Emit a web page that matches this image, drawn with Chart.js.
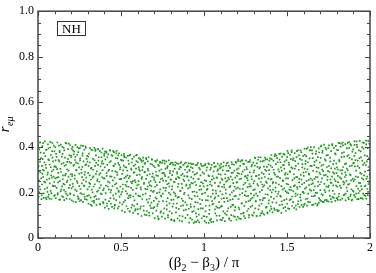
<!DOCTYPE html>
<html>
<head>
<meta charset="utf-8">
<script src="https://cdn.jsdelivr.net/npm/chart.js@4"></script>
<style>
  html, body { margin: 0; padding: 0; background: #fff; }
  canvas { display: block; }
</style>
</head>
<body>
<canvas id="chart" width="376" height="273"></canvas>
<script>
// tick labels
const xMajorLabels = ["0", "0.5", "1", "1.5", "2"];
const yMajorLabels = ["0", "0.2", "0.4", "0.6", "0.8", "1.0"];

// scatter points, [beta2-beta3 over pi, r_emu], in four stretches
const band0to05 = [
  [0.004,.182],[0.006,.254],[0.003,.317],[0.008,.391],[0.011,.421],[0.013,.214],[0.015,.289],[0.018,.352],[0.021,.171],[0.024,.236],[0.026,.405],[0.028,.301],[0.031,.268],[0.034,.197],[0.036,.374],[0.039,.333],[0.042,.426],[0.044,.245],[0.047,.178],[0.049,.309],[0.052,.388],[0.055,.222],[0.057,.279],[0.06,.413],[0.062,.347],[0.065,.191],[0.068,.262],[0.07,.324],[0.073,.399],[0.076,.208],[0.078,.366],[0.081,.172],[0.084,.294],[0.086,.419],[0.089,.231],[0.091,.338],[0.094,.271],[0.097,.186],[0.099,.382],[0.098,.315],
  [0.102,.229],[0.104,.401],[0.107,.176],[0.109,.312],[0.112,.358],[0.114,.266],[0.117,.421],[0.119,.198],[0.122,.287],[0.124,.343],[0.127,.169],[0.13,.384],[0.132,.251],[0.135,.305],[0.137,.412],[0.14,.213],[0.142,.327],[0.145,.184],[0.148,.371],[0.15,.276],[0.153,.239],[0.155,.398],[0.158,.167],[0.16,.318],[0.163,.354],[0.166,.204],[0.168,.283],[0.171,.417],[0.173,.246],[0.176,.336],[0.178,.188],[0.181,.392],[0.184,.297],[0.186,.221],[0.189,.364],[0.191,.172],[0.194,.409],[0.196,.258],[0.199,.331],[0.195,.193],
  [0.201,.356],[0.203,.166],[0.206,.273],[0.208,.402],[0.211,.227],[0.213,.319],[0.216,.189],[0.218,.381],[0.221,.262],[0.223,.344],[0.226,.411],[0.228,.158],[0.231,.298],[0.233,.207],[0.236,.367],[0.238,.243],[0.241,.329],[0.244,.176],[0.246,.395],[0.249,.284],[0.251,.162],[0.254,.351],[0.256,.216],[0.259,.407],[0.261,.302],[0.264,.194],[0.266,.268],[0.269,.373],[0.271,.159],[0.274,.338],[0.276,.231],[0.279,.389],[0.281,.181],[0.284,.291],[0.286,.404],[0.289,.249],[0.291,.325],[0.294,.169],[0.296,.362],[0.299,.214],
  [0.302,.287],[0.304,.151],[0.307,.372],[0.309,.226],[0.312,.333],[0.314,.396],[0.317,.178],[0.319,.258],[0.322,.309],[0.324,.143],[0.327,.387],[0.329,.201],[0.332,.349],[0.334,.272],[0.337,.164],[0.339,.398],[0.342,.237],[0.344,.318],[0.347,.186],[0.349,.364],[0.352,.146],[0.354,.294],[0.357,.252],[0.359,.391],[0.362,.209],[0.364,.341],[0.367,.172],[0.369,.279],[0.372,.383],[0.374,.148],[0.377,.316],[0.379,.232],[0.382,.356],[0.384,.193],[0.387,.267],[0.389,.394],[0.392,.158],[0.394,.328],[0.397,.219],[0.399,.371],
  [0.401,.263],[0.403,.134],[0.406,.347],[0.408,.198],[0.411,.381],[0.413,.286],[0.416,.152],[0.418,.322],[0.421,.227],[0.423,.369],[0.426,.128],[0.428,.301],[0.431,.244],[0.433,.386],[0.436,.176],[0.438,.339],[0.441,.211],[0.443,.271],[0.446,.137],[0.448,.362],[0.451,.254],[0.453,.188],[0.456,.317],[0.458,.379],[0.461,.143],[0.463,.236],[0.466,.294],[0.468,.352],[0.471,.167],[0.473,.384],[0.476,.219],[0.478,.278],[0.481,.131],[0.483,.331],[0.486,.203],[0.488,.373],[0.491,.259],[0.493,.156],[0.496,.311],[0.499,.345],
  [0.057,.203],[0.012,.337],[0.083,.266],[0.031,.418],[0.069,.174],[0.005,.294],[0.044,.361],[0.091,.229],[0.022,.188],[0.076,.312],[0.038,.249],[0.063,.395],[0.009,.227],[0.087,.354],[0.051,.171],[0.027,.283],[0.095,.407],[0.016,.376],[0.071,.241],[0.046,.322],[0.002,.409],[0.059,.288],[0.034,.177],[0.081,.198],[0.019,.263],[0.066,.343],[0.041,.216],[0.093,.301],[0.028,.348],[0.074,.424],[0.053,.257],[0.008,.201],[0.085,.383],[0.036,.297],[0.061,.181],[0.014,.421],[0.079,.276],[0.048,.389],[0.024,.318],[0.097,.247],
  [0.163,.276],[0.118,.191],[0.181,.349],[0.104,.263],[0.147,.402],[0.192,.233],[0.128,.338],[0.172,.174],[0.109,.371],[0.157,.211],[0.138,.291],[0.186,.416],[0.121,.245],[0.168,.323],[0.101,.189],[0.143,.359],[0.197,.281],[0.133,.169],[0.177,.253],[0.115,.304],[0.152,.181],[0.189,.336],[0.126,.407],[0.161,.236],[0.106,.342],[0.149,.259],[0.194,.197],[0.131,.378],[0.175,.302],[0.112,.221],[0.158,.386],[0.184,.271],[0.136,.206],[0.166,.419],[0.103,.316],[0.145,.228],[0.199,.363],[0.123,.268],[0.171,.195],[0.154,.331],
  [0.247,.311],[0.209,.239],[0.283,.171],[0.226,.358],[0.262,.287],[0.204,.394],[0.239,.184],[0.291,.266],[0.218,.323],[0.271,.406],[0.234,.251],[0.256,.198],[0.298,.337],[0.213,.161],[0.279,.229],[0.242,.379],[0.267,.314],[0.206,.281],[0.288,.397],[0.224,.213],[0.253,.342],[0.296,.186],[0.231,.299],[0.274,.256],[0.215,.369],[0.259,.167],[0.285,.321],[0.237,.401],[0.202,.219],[0.268,.363],[0.249,.229],[0.293,.349],[0.221,.276],[0.277,.193],[0.244,.171],[0.211,.386],[0.264,.241],[0.229,.332],[0.281,.279],[0.252,.396],
  [0.356,.204],[0.311,.276],[0.387,.339],[0.327,.162],[0.369,.248],[0.303,.359],[0.344,.391],[0.392,.211],[0.319,.306],[0.374,.149],[0.335,.227],[0.361,.322],[0.307,.188],[0.382,.377],[0.349,.283],[0.322,.389],[0.396,.263],[0.338,.156],[0.366,.356],[0.314,.239],[0.378,.196],[0.341,.342],[0.353,.171],[0.329,.266],[0.389,.299],[0.305,.318],[0.371,.221],[0.346,.384],[0.317,.147],[0.384,.329],[0.332,.301],[0.359,.259],[0.394,.153],[0.324,.213],[0.363,.392],[0.339,.181],[0.309,.243],[0.376,.286],[0.351,.331],[0.399,.363],
  [0.447,.296],[0.406,.169],[0.472,.241],[0.418,.356],[0.491,.182],[0.434,.272],[0.459,.131],[0.402,.311],[0.483,.364],[0.427,.214],[0.465,.327],[0.412,.376],[0.496,.227],[0.439,.151],[0.476,.289],[0.421,.249],[0.453,.383],[0.487,.139],[0.431,.334],[0.468,.196],[0.409,.231],[0.494,.303],[0.443,.366],[0.461,.266],[0.416,.141],[0.479,.351],[0.437,.201],[0.498,.261],[0.424,.296],[0.457,.174],[0.404,.381],[0.489,.322],[0.449,.229],[0.428,.163],[0.471,.373],[0.414,.274],[0.455,.319],[0.485,.209],[0.433,.386],[0.463,.146]
];
const band05to1 = [
  [0.501,.192],[0.503,.366],[0.506,.121],[0.508,.283],[0.511,.236],[0.513,.341],[0.516,.158],[0.518,.371],[0.521,.264],[0.523,.114],[0.526,.312],[0.528,.207],[0.531,.355],[0.533,.141],[0.536,.249],[0.538,.297],[0.541,.362],[0.543,.176],[0.546,.226],[0.548,.327],[0.551,.118],[0.553,.273],[0.556,.368],[0.558,.189],[0.561,.306],[0.563,.134],[0.566,.242],[0.568,.349],[0.571,.212],[0.573,.111],[0.576,.288],[0.578,.359],[0.581,.166],[0.583,.255],[0.586,.324],[0.588,.127],[0.591,.364],[0.593,.219],[0.596,.277],[0.598,.149],
  [0.601,.334],[0.603,.106],[0.606,.251],[0.608,.352],[0.611,.184],[0.613,.296],[0.616,.129],[0.618,.223],[0.621,.343],[0.623,.097],[0.626,.268],[0.628,.172],[0.631,.314],[0.633,.354],[0.636,.141],[0.638,.238],[0.641,.289],[0.643,.103],[0.646,.331],[0.648,.196],[0.651,.261],[0.653,.348],[0.656,.119],[0.658,.214],[0.661,.305],[0.663,.157],[0.666,.356],[0.668,.244],[0.671,.099],[0.673,.281],[0.676,.186],[0.678,.327],[0.681,.132],[0.683,.229],[0.686,.345],[0.688,.271],[0.691,.109],[0.693,.203],[0.696,.318],[0.698,.164],
  [0.701,.256],[0.703,.088],[0.706,.339],[0.708,.178],[0.711,.292],[0.713,.121],[0.716,.233],[0.718,.343],[0.721,.149],[0.723,.274],[0.726,.083],[0.728,.318],[0.731,.201],[0.733,.246],[0.736,.336],[0.738,.112],[0.741,.187],[0.743,.302],[0.746,.094],[0.748,.263],[0.751,.341],[0.753,.163],[0.756,.221],[0.758,.287],[0.761,.131],[0.763,.329],[0.766,.085],[0.768,.209],[0.771,.252],[0.773,.338],[0.776,.144],[0.778,.309],[0.781,.176],[0.783,.101],[0.786,.268],[0.788,.342],[0.791,.227],[0.793,.118],[0.796,.296],[0.798,.191],
  [0.801,.331],[0.803,.079],[0.806,.214],[0.808,.277],[0.811,.138],[0.813,.323],[0.816,.169],[0.818,.248],[0.821,.074],[0.823,.305],[0.826,.196],[0.828,.334],[0.831,.113],[0.833,.259],[0.836,.152],[0.838,.291],[0.841,.086],[0.843,.226],[0.846,.327],[0.848,.181],[0.851,.265],[0.853,.098],[0.856,.314],[0.858,.207],[0.861,.141],[0.863,.335],[0.866,.239],[0.868,.073],[0.871,.283],[0.873,.164],[0.876,.322],[0.878,.122],[0.881,.252],[0.883,.199],[0.886,.301],[0.888,.089],[0.891,.333],[0.893,.231],[0.896,.146],[0.898,.272],
  [0.901,.102],[0.903,.317],[0.906,.188],[0.908,.254],[0.911,.068],[0.913,.296],[0.916,.223],[0.918,.329],[0.921,.137],[0.923,.268],[0.926,.171],[0.928,.081],[0.931,.308],[0.933,.241],[0.936,.326],[0.938,.119],[0.941,.205],[0.943,.279],[0.946,.072],[0.948,.158],[0.951,.321],[0.953,.233],[0.956,.094],[0.958,.286],[0.961,.184],[0.963,.331],[0.966,.127],[0.968,.261],[0.971,.069],[0.973,.212],[0.976,.303],[0.978,.149],[0.981,.327],[0.983,.246],[0.986,.087],[0.988,.194],[0.991,.289],[0.993,.131],[0.996,.318],[0.998,.228],
  [0.547,.264],[0.508,.148],[0.577,.318],[0.521,.356],[0.589,.196],[0.534,.228],[0.563,.301],[0.504,.342],[0.584,.121],[0.529,.271],[0.556,.179],[0.511,.216],[0.593,.339],[0.541,.129],[0.572,.251],[0.517,.319],[0.551,.364],[0.598,.232],[0.537,.196],[0.568,.146],[0.502,.261],[0.581,.289],[0.544,.341],[0.525,.166],[0.561,.221],[0.596,.367],[0.513,.298],[0.574,.183],[0.532,.311],[0.553,.116],[0.587,.246],[0.519,.362],[0.565,.333],[0.506,.203],[0.579,.141],[0.539,.276],[0.559,.248],[0.591,.306],[0.527,.234],[0.548,.187],
  [0.647,.217],[0.609,.303],[0.683,.156],[0.624,.261],[0.662,.338],[0.603,.187],[0.691,.284],[0.637,.121],[0.674,.233],[0.615,.349],[0.655,.169],[0.697,.207],[0.628,.299],[0.669,.112],[0.606,.236],[0.642,.327],[0.686,.348],[0.619,.138],[0.658,.276],[0.632,.191],[0.694,.132],[0.612,.279],[0.651,.352],[0.678,.251],[0.621,.214],[0.665,.297],[0.601,.126],[0.688,.324],[0.639,.243],[0.671,.173],[0.626,.337],[0.654,.101],[0.699,.266],[0.617,.183],[0.645,.292],[0.681,.209],[0.634,.341],[0.661,.228],[0.607,.311],[0.676,.143],
  [0.743,.183],[0.708,.246],[0.781,.317],[0.721,.096],[0.766,.273],[0.704,.312],[0.792,.153],[0.734,.332],[0.756,.109],[0.717,.198],[0.787,.241],[0.749,.286],[0.728,.161],[0.771,.221],[0.701,.136],[0.796,.326],[0.739,.259],[0.761,.341],[0.713,.276],[0.783,.091],[0.752,.196],[0.724,.322],[0.774,.161],[0.706,.226],[0.741,.118],[0.798,.258],[0.731,.297],[0.768,.306],[0.719,.141],[0.789,.199],[0.754,.253],[0.711,.337],[0.776,.126],[0.736,.214],[0.763,.279],[0.726,.087],[0.794,.286],[0.747,.331],[0.715,.173],[0.779,.237],
  [0.844,.268],[0.806,.109],[0.879,.193],[0.823,.246],[0.861,.311],[0.803,.168],[0.891,.125],[0.836,.329],[0.869,.221],[0.814,.294],[0.853,.077],[0.897,.314],[0.829,.186],[0.876,.258],[0.809,.228],[0.848,.128],[0.884,.329],[0.821,.079],[0.866,.173],[0.838,.284],[0.801,.257],[0.894,.236],[0.857,.209],[0.826,.321],[0.871,.096],[0.811,.331],[0.846,.239],[0.887,.157],[0.833,.133],[0.863,.276],[0.818,.201],[0.899,.289],[0.851,.304],[0.874,.144],[0.831,.262],[0.804,.082],[0.882,.273],[0.841,.178],[0.859,.331],[0.816,.151],
  [0.946,.247],[0.908,.129],[0.979,.276],[0.921,.312],[0.963,.078],[0.904,.219],[0.989,.167],[0.934,.291],[0.956,.201],[0.917,.088],[0.993,.241],[0.941,.138],[0.927,.326],[0.971,.309],[0.901,.271],[0.951,.109],[0.984,.214],[0.913,.176],[0.966,.259],[0.938,.067],[0.997,.096],[0.924,.243],[0.958,.323],[0.981,.131],[0.911,.301],[0.944,.186],[0.976,.229],[0.931,.203],[0.961,.156],[0.906,.329],[0.986,.318],[0.949,.281],[0.919,.148],[0.969,.103],[0.936,.262],[0.991,.196],[0.954,.071],[0.929,.115],[0.974,.172],[0.915,.234]
];
const band1to15 = [
  [1.001,.284],[1.003,.074],[1.006,.199],[1.008,.326],[1.011,.141],[1.013,.252],[1.016,.093],[1.018,.311],[1.021,.217],[1.023,.166],[1.026,.329],[1.028,.067],[1.031,.273],[1.033,.124],[1.036,.236],[1.038,.301],[1.041,.182],[1.043,.083],[1.046,.322],[1.048,.257],[1.051,.148],[1.053,.211],[1.056,.071],[1.058,.294],[1.061,.331],[1.063,.173],[1.066,.243],[1.068,.109],[1.071,.316],[1.073,.197],[1.076,.266],[1.078,.078],[1.081,.134],[1.083,.328],[1.086,.229],[1.088,.282],[1.091,.158],[1.093,.098],[1.096,.307],[1.098,.206],
  [1.101,.138],[1.103,.327],[1.106,.262],[1.108,.079],[1.111,.192],[1.113,.298],[1.116,.117],[1.118,.334],[1.121,.235],[1.123,.159],[1.126,.074],[1.128,.281],[1.131,.213],[1.133,.319],[1.136,.102],[1.138,.176],[1.141,.253],[1.143,.332],[1.146,.131],[1.148,.296],[1.151,.087],[1.153,.224],[1.156,.309],[1.158,.168],[1.161,.271],[1.163,.076],[1.166,.335],[1.168,.201],[1.171,.146],[1.173,.288],[1.176,.242],[1.178,.097],[1.181,.323],[1.183,.184],[1.186,.122],[1.188,.266],[1.191,.336],[1.193,.218],[1.196,.081],[1.198,.303],
  [1.201,.247],[1.203,.093],[1.206,.339],[1.208,.171],[1.211,.284],[1.213,.126],[1.216,.216],[1.218,.318],[1.221,.084],[1.223,.262],[1.226,.153],[1.228,.343],[1.231,.198],[1.233,.293],[1.236,.109],[1.238,.235],[1.241,.327],[1.243,.142],[1.246,.271],[1.248,.088],[1.251,.206],[1.253,.341],[1.256,.184],[1.258,.304],[1.261,.119],[1.263,.254],[1.266,.336],[1.268,.163],[1.271,.091],[1.273,.227],[1.276,.289],[1.278,.344],[1.281,.137],[1.283,.196],[1.286,.316],[1.288,.259],[1.291,.101],[1.293,.178],[1.296,.332],[1.298,.241],
  [1.301,.112],[1.303,.298],[1.306,.214],[1.308,.352],[1.311,.161],[1.313,.273],[1.316,.097],[1.318,.329],[1.321,.238],[1.323,.186],[1.326,.345],[1.328,.126],[1.331,.262],[1.333,.307],[1.336,.203],[1.338,.099],[1.341,.356],[1.343,.247],[1.346,.151],[1.348,.288],[1.351,.117],[1.353,.338],[1.356,.226],[1.358,.176],[1.361,.315],[1.363,.103],[1.366,.269],[1.368,.354],[1.371,.193],[1.373,.134],[1.376,.296],[1.378,.243],[1.381,.347],[1.383,.109],[1.386,.219],[1.388,.324],[1.391,.166],[1.393,.281],[1.396,.121],[1.398,.351],
  [1.401,.258],[1.403,.139],[1.406,.366],[1.408,.201],[1.411,.312],[1.413,.113],[1.416,.246],[1.418,.341],[1.421,.174],[1.423,.287],[1.426,.124],[1.428,.369],[1.431,.222],[1.433,.326],[1.436,.156],[1.438,.271],[1.441,.352],[1.443,.118],[1.446,.194],[1.448,.303],[1.451,.236],[1.453,.371],[1.456,.145],[1.458,.264],[1.461,.334],[1.463,.182],[1.466,.111],[1.468,.297],[1.471,.359],[1.473,.213],[1.476,.251],[1.478,.132],[1.481,.321],[1.483,.167],[1.486,.368],[1.488,.279],[1.491,.207],[1.493,.119],[1.496,.343],[1.498,.239],
  [1.047,.231],[1.009,.117],[1.081,.296],[1.024,.184],[1.063,.314],[1.004,.254],[1.092,.133],[1.036,.079],[1.071,.209],[1.015,.298],[1.056,.151],[1.097,.244],[1.029,.326],[1.076,.098],[1.011,.167],[1.051,.273],[1.086,.186],[1.021,.231],[1.066,.126],[1.041,.309],[1.002,.096],[1.094,.319],[1.059,.263],[1.033,.143],[1.079,.266],[1.017,.212],[1.044,.071],[1.089,.228],[1.027,.276],[1.068,.179],[1.006,.321],[1.053,.196],[1.099,.081],[1.038,.248],[1.074,.139],[1.013,.068],[1.061,.331],[1.084,.303],[1.031,.106],[1.049,.163],
  [1.146,.266],[1.107,.142],[1.183,.297],[1.122,.223],[1.164,.101],[1.103,.311],[1.191,.186],[1.137,.329],[1.171,.257],[1.114,.089],[1.156,.191],[1.196,.244],[1.128,.263],[1.176,.146],[1.109,.226],[1.149,.318],[1.186,.093],[1.119,.176],[1.166,.287],[1.141,.118],[1.101,.279],[1.193,.331],[1.159,.229],[1.131,.197],[1.179,.209],[1.116,.316],[1.143,.163],[1.188,.136],[1.126,.109],[1.169,.326],[1.106,.173],[1.153,.082],[1.199,.274],[1.134,.249],[1.173,.171],[1.111,.256],[1.161,.137],[1.184,.226],[1.139,.296],[1.151,.259],
  [1.246,.189],[1.208,.307],[1.282,.228],[1.223,.107],[1.264,.276],[1.204,.222],[1.291,.143],[1.236,.327],[1.271,.101],[1.214,.259],[1.256,.313],[1.297,.211],[1.229,.152],[1.276,.336],[1.209,.134],[1.249,.243],[1.286,.272],[1.219,.338],[1.266,.186],[1.241,.097],[1.202,.286],[1.294,.099],[1.259,.264],[1.233,.217],[1.279,.166],[1.216,.191],[1.244,.301],[1.289,.322],[1.226,.281],[1.268,.129],[1.206,.346],[1.253,.158],[1.299,.289],[1.238,.111],[1.274,.238],[1.212,.086],[1.262,.224],[1.284,.173],[1.231,.341],[1.251,.273],
  [1.347,.264],[1.309,.131],[1.384,.191],[1.322,.314],[1.363,.232],[1.303,.251],[1.392,.299],[1.337,.168],[1.372,.347],[1.314,.196],[1.355,.108],[1.397,.229],[1.328,.356],[1.377,.137],[1.306,.319],[1.349,.211],[1.387,.262],[1.319,.097],[1.366,.177],[1.341,.338],[1.301,.188],[1.394,.341],[1.359,.283],[1.333,.143],[1.379,.314],[1.316,.274],[1.344,.109],[1.389,.153],[1.326,.231],[1.368,.301],[1.307,.354],[1.353,.167],[1.399,.211],[1.338,.311],[1.374,.249],[1.312,.163],[1.361,.341],[1.382,.113],[1.331,.278],[1.351,.236],
  [1.446,.271],[1.408,.348],[1.483,.219],[1.423,.131],[1.464,.311],[1.404,.181],[1.491,.286],[1.436,.363],[1.471,.147],[1.414,.241],[1.455,.346],[1.497,.171],[1.428,.279],[1.476,.321],[1.406,.128],[1.449,.204],[1.486,.337],[1.419,.301],[1.466,.229],[1.441,.124],[1.401,.319],[1.494,.263],[1.459,.186],[1.433,.243],[1.479,.371],[1.416,.213],[1.444,.334],[1.489,.136],[1.426,.361],[1.468,.162],[1.407,.261],[1.453,.293],[1.499,.201],[1.438,.183],[1.474,.254],[1.412,.157],[1.461,.372],[1.484,.306],[1.431,.206],[1.451,.121]
];
const band15to2 = [
  [1.501,.151],[1.503,.384],[1.506,.263],[1.508,.198],[1.511,.332],[1.513,.128],[1.516,.293],[1.518,.367],[1.521,.224],[1.523,.171],[1.526,.311],[1.528,.386],[1.531,.141],[1.533,.255],[1.536,.343],[1.538,.206],[1.541,.281],[1.543,.133],[1.546,.374],[1.548,.232],[1.551,.184],[1.553,.318],[1.556,.126],[1.558,.357],[1.561,.268],[1.563,.216],[1.566,.387],[1.568,.162],[1.571,.301],[1.573,.245],[1.576,.137],[1.578,.349],[1.581,.191],[1.583,.278],[1.586,.378],[1.588,.146],[1.591,.237],[1.593,.326],[1.596,.203],[1.598,.362],
  [1.601,.274],[1.603,.146],[1.606,.394],[1.608,.218],[1.611,.327],[1.613,.172],[1.616,.361],[1.618,.252],[1.621,.143],[1.623,.303],[1.626,.399],[1.628,.196],[1.631,.284],[1.633,.233],[1.636,.351],[1.638,.158],[1.641,.386],[1.643,.262],[1.646,.209],[1.648,.317],[1.651,.145],[1.653,.372],[1.656,.241],[1.658,.296],[1.661,.184],[1.663,.401],[1.666,.336],[1.668,.227],[1.671,.152],[1.673,.269],[1.676,.382],[1.678,.311],[1.681,.199],[1.683,.144],[1.686,.357],[1.688,.248],[1.691,.395],[1.693,.176],[1.696,.288],[1.698,.333],
  [1.701,.211],[1.703,.404],[1.706,.163],[1.708,.319],[1.711,.263],[1.713,.376],[1.716,.189],[1.718,.295],[1.721,.158],[1.723,.412],[1.726,.239],[1.728,.347],[1.731,.202],[1.733,.278],[1.736,.391],[1.738,.168],[1.741,.313],[1.743,.256],[1.746,.365],[1.748,.224],[1.751,.161],[1.753,.408],[1.756,.291],[1.758,.186],[1.761,.338],[1.763,.244],[1.766,.383],[1.768,.159],[1.771,.271],[1.773,.414],[1.776,.208],[1.778,.326],[1.781,.177],[1.783,.397],[1.786,.259],[1.788,.306],[1.791,.164],[1.793,.369],[1.796,.231],[1.798,.286],
  [1.801,.389],[1.803,.176],[1.806,.302],[1.808,.246],[1.811,.419],[1.813,.195],[1.816,.338],[1.818,.267],[1.821,.168],[1.823,.403],[1.826,.221],[1.828,.357],[1.831,.284],[1.833,.174],[1.836,.421],[1.838,.313],[1.841,.236],[1.843,.378],[1.846,.191],[1.848,.269],[1.851,.414],[1.853,.166],[1.856,.329],[1.858,.252],[1.861,.395],[1.863,.207],[1.866,.298],[1.868,.178],[1.871,.366],[1.873,.423],[1.876,.238],[1.878,.317],[1.881,.184],[1.883,.276],[1.886,.408],[1.888,.215],[1.891,.347],[1.893,.169],[1.896,.261],[1.898,.391],
  [1.901,.204],[1.903,.331],[1.906,.426],[1.908,.258],[1.911,.182],[1.913,.374],[1.916,.297],[1.918,.229],[1.921,.411],[1.923,.171],[1.926,.341],[1.928,.268],[1.931,.198],[1.933,.386],[1.936,.309],[1.938,.428],[1.941,.242],[1.943,.176],[1.946,.356],[1.948,.283],[1.951,.214],[1.953,.401],[1.956,.172],[1.958,.322],[1.961,.257],[1.963,.419],[1.966,.189],[1.968,.364],[1.971,.293],[1.973,.231],[1.976,.429],[1.978,.174],[1.981,.338],[1.983,.271],[1.986,.396],[1.988,.203],[1.991,.313],[1.993,.249],[1.996,.416],[1.998,.186],
  [1.547,.306],[1.508,.236],[1.584,.166],[1.523,.348],[1.563,.191],[1.504,.281],[1.592,.311],[1.537,.158],[1.572,.364],[1.514,.213],[1.555,.268],[1.597,.137],[1.528,.379],[1.577,.226],[1.506,.131],[1.549,.339],[1.587,.257],[1.519,.293],[1.566,.149],[1.541,.229],[1.501,.357],[1.594,.203],[1.559,.383],[1.533,.307],[1.579,.179],[1.516,.167],[1.544,.263],[1.589,.344],[1.526,.211],[1.568,.328],[1.507,.374],[1.553,.143],[1.599,.288],[1.538,.351],[1.574,.261],[1.512,.322],[1.561,.224],[1.582,.386],[1.531,.183],[1.551,.196],
  [1.647,.237],[1.608,.367],[1.683,.268],[1.623,.174],[1.664,.321],[1.604,.243],[1.692,.156],[1.637,.387],[1.672,.199],[1.614,.291],[1.655,.352],[1.697,.236],[1.628,.159],[1.677,.342],[1.606,.306],[1.649,.184],[1.686,.229],[1.619,.393],[1.666,.261],[1.641,.318],[1.601,.198],[1.694,.377],[1.659,.147],[1.633,.279],[1.679,.293],[1.616,.223],[1.644,.401],[1.689,.309],[1.626,.334],[1.668,.187],[1.607,.151],[1.653,.254],[1.699,.168],[1.638,.213],[1.674,.371],[1.612,.339],[1.661,.211],[1.684,.149],[1.631,.256],[1.651,.386],
  [1.747,.296],[1.708,.194],[1.783,.341],[1.723,.276],[1.764,.171],[1.703,.353],[1.792,.251],[1.737,.227],[1.772,.408],[1.714,.384],[1.755,.209],[1.797,.328],[1.728,.167],[1.777,.289],[1.706,.247],[1.749,.396],[1.786,.194],[1.719,.323],[1.766,.307],[1.741,.163],[1.701,.281],[1.794,.406],[1.759,.354],[1.733,.341],[1.779,.232],[1.716,.159],[1.744,.271],[1.789,.373],[1.726,.211],[1.768,.243],[1.707,.407],[1.753,.318],[1.799,.176],[1.738,.364],[1.774,.181],[1.712,.302],[1.761,.258],[1.784,.284],[1.731,.398],[1.751,.231],
  [1.846,.244],[1.808,.387],[1.884,.191],[1.822,.298],[1.863,.361],[1.803,.226],[1.891,.319],[1.837,.408],[1.872,.171],[1.814,.343],[1.855,.277],[1.896,.209],[1.828,.416],[1.877,.353],[1.806,.168],[1.849,.326],[1.886,.254],[1.819,.231],[1.866,.419],[1.841,.189],[1.801,.311],[1.894,.381],[1.859,.222],[1.833,.299],[1.879,.281],[1.816,.418],[1.844,.359],[1.889,.166],[1.826,.262],[1.868,.235],[1.807,.274],[1.853,.196],[1.899,.329],[1.838,.249],[1.874,.397],[1.812,.183],[1.861,.306],[1.882,.414],[1.831,.374],[1.851,.289],
  [1.947,.229],[1.909,.316],[1.983,.361],[1.923,.401],[1.964,.276],[1.904,.189],[1.991,.238],[1.937,.352],[1.972,.186],[1.914,.271],[1.955,.421],[1.996,.301],[1.928,.218],[1.977,.413],[1.906,.362],[1.949,.176],[1.986,.189],[1.919,.426],[1.966,.331],[1.941,.287],[1.901,.251],[1.994,.352],[1.959,.196],[1.933,.243],[1.979,.261],[1.916,.196],[1.944,.382],[1.989,.428],[1.926,.317],[1.968,.227],[1.907,.411],[1.953,.341],[1.999,.279],[1.938,.208],[1.974,.321],[1.912,.343],[1.961,.394],[1.984,.216],[1.931,.171],[1.952,.263]
];

const serif = "'Liberation Serif', 'DejaVu Serif', serif";
const near = (v, step) => Math.abs(v / step - Math.round(v / step)) < 1e-6;

// frame, inward ticks on all four sides, NH box, axis titles with subscripts
const framePlugin = {
  id: "frame",
  afterDraw(chart) {
    const { ctx, chartArea: a, scales } = chart;
    const xs = scales.x, ys = scales.y;
    ctx.save();
    ctx.strokeStyle = "#444";
    ctx.lineWidth = 1.5;
    ctx.strokeRect(a.left, a.top, a.right - a.left, a.bottom - a.top);

    ctx.lineWidth = 1;
    ctx.beginPath();
    for (let i = 0; i <= 20; i++) {
      const px = Math.round(xs.getPixelForValue(i / 10)) + 0.5;
      const len = i % 5 === 0 ? 5 : 3;
      ctx.moveTo(px, a.bottom); ctx.lineTo(px, a.bottom - len);
      ctx.moveTo(px, a.top); ctx.lineTo(px, a.top + len);
    }
    for (let i = 0; i <= 20; i++) {
      const py = Math.round(ys.getPixelForValue(i / 20)) + 0.5;
      const len = i % 4 === 0 ? 5 : 3;
      ctx.moveTo(a.left, py); ctx.lineTo(a.left + len, py);
      ctx.moveTo(a.right, py); ctx.lineTo(a.right - len, py);
    }
    ctx.stroke();

    // NH label box
    ctx.fillStyle = "#fff";
    ctx.fillRect(57, 21, 29, 15);
    ctx.strokeStyle = "#333";
    ctx.lineWidth = 1;
    ctx.strokeRect(57.5, 21.5, 28, 14);
    ctx.fillStyle = "#000";
    ctx.font = "13px " + serif;
    ctx.textAlign = "center";
    ctx.textBaseline = "alphabetic";
    ctx.fillText("NH", 71.5, 33);

    // x title: (β2 − β3) / π
    const big = "15px " + serif, small = "10px " + serif;
    const parts = [["(β", big, 0], ["2", small, 4], [" − β", big, 0], ["3", small, 4], [") / π", big, 0]];
    let w = 0;
    parts.forEach(p => { ctx.font = p[1]; w += ctx.measureText(p[0]).width; });
    let x = (a.left + a.right) / 2 - w / 2;
    ctx.textAlign = "left";
    parts.forEach(p => {
      ctx.font = p[1];
      ctx.fillText(p[0], x, 267 + p[2]);
      x += ctx.measureText(p[0]).width;
    });

    // y title: r_eμ rotated
    ctx.translate(9, (a.top + a.bottom) / 2);
    ctx.rotate(-Math.PI / 2);
    ctx.font = "italic 15px " + serif;
    const rw = ctx.measureText("r").width;
    ctx.font = "italic 10px " + serif;
    const sw = ctx.measureText("eμ").width;
    const tx = -(rw + sw) / 2;
    ctx.font = "italic 15px " + serif;
    ctx.fillText("r", tx, 0);
    ctx.font = "italic 10px " + serif;
    ctx.fillText("eμ", tx + rw + 0.5, 4);
    ctx.restore();
  }
};

const points = [...band0to05, ...band05to1, ...band1to15, ...band15to2].map(([x, y]) => ({ x, y }));

new Chart(document.getElementById("chart"), {
  type: "scatter",
  data: {
    datasets: [{
      data: points,
      backgroundColor: "#1a9c1a",
      borderWidth: 0,
      pointStyle: "rect",
      pointRadius: 1.2,
      pointHoverRadius: 1.2
    }]
  },
  options: {
    responsive: false,
    animation: false,
    events: [],
    layout: { padding: { top: 5, right: 6, left: 0, bottom: 0 } },
    plugins: { legend: { display: false }, tooltip: { enabled: false } },
    scales: {
      x: {
        type: "linear",
        min: 0,
        max: 2,
        afterFit(s) { s.height = 35; },
        grid: { display: false, drawTicks: false },
        border: { display: false },
        ticks: {
          stepSize: 0.1,
          autoSkip: false,
          maxRotation: 0,
          padding: 3,
          color: "#000",
          font: { family: serif, size: 12 },
          callback: v => near(v, 0.5) ? xMajorLabels[Math.round(v / 0.5)] : ""
        }
      },
      y: {
        min: 0,
        max: 1,
        afterFit(s) { s.width = 38; },
        grid: { display: false, drawTicks: false },
        border: { display: false },
        ticks: {
          stepSize: 0.05,
          autoSkip: false,
          padding: 4,
          color: "#000",
          font: { family: serif, size: 12 },
          callback: v => near(v, 0.2) ? yMajorLabels[Math.round(v / 0.2)] : ""
        }
      }
    }
  },
  plugins: [framePlugin]
});
</script>
</body>
</html>
